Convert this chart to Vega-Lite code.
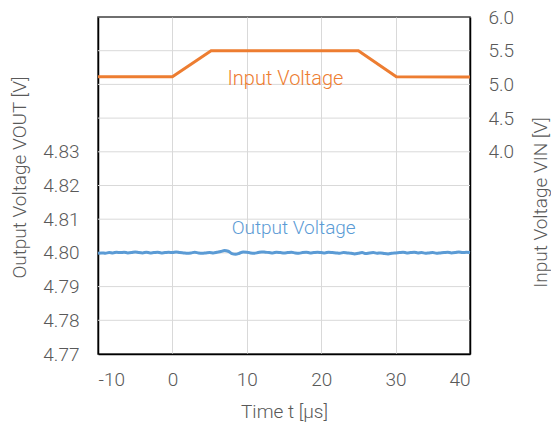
{
  "$schema": "https://vega.github.io/schema/vega-lite/v6.json",
  "autosize": {"type": "none"},
  "padding": {"left": 98, "top": 17, "right": 81, "bottom": 73},
  "width": 372,
  "height": 337,
  "background": "white",
  "config": {
    "view": {"stroke": "#404040", "strokeWidth": 1.5},
    "font": "Roboto",
    "axis": {
      "labelFont": "Roboto",
      "titleFont": "Roboto",
      "labelFontSize": 19,
      "titleFontSize": 19,
      "labelFontWeight": 300,
      "titleFontWeight": 300,
      "labelColor": "#595959",
      "titleColor": "#595959",
      "labelOverlap": false,
      "ticks": false,
      "domainColor": "#000000",
      "domainWidth": 1.5,
      "gridColor": "#d9d9d9",
      "gridWidth": 1
    }
  },
  "datasets": {
    "grid": [
      {"v": 4.78}, {"v": 4.79}, {"v": 4.80}, {"v": 4.81}, {"v": 4.82},
      {"v": 4.83}, {"v": 4.84}, {"v": 4.85}, {"v": 4.86}
    ],
    "vin": [
      {"t": -10, "v": 5.115},
      {"t": 0, "v": 5.115},
      {"t": 5.2, "v": 5.5},
      {"t": 25, "v": 5.5},
      {"t": 30.1, "v": 5.115},
      {"t": 40, "v": 5.11}
    ],
    "vout": [
      {"t": -10, "v": 4.7999}, {"t": -9.5, "v": 4.8000}, {"t": -9, "v": 4.7999}, {"t": -8.5, "v": 4.8001},
      {"t": -8, "v": 4.8000}, {"t": -7.5, "v": 4.8002}, {"t": -7, "v": 4.8001}, {"t": -6.5, "v": 4.8002},
      {"t": -6, "v": 4.8000}, {"t": -5.5, "v": 4.8001}, {"t": -5, "v": 4.8003}, {"t": -4.5, "v": 4.8001},
      {"t": -4, "v": 4.8000}, {"t": -3.5, "v": 4.8002}, {"t": -3, "v": 4.8000}, {"t": -2.5, "v": 4.8001},
      {"t": -2, "v": 4.8002}, {"t": -1.5, "v": 4.8000}, {"t": -1, "v": 4.8001}, {"t": -0.5, "v": 4.8002},
      {"t": 0, "v": 4.8001}, {"t": 0.5, "v": 4.8003}, {"t": 1, "v": 4.8001}, {"t": 1.5, "v": 4.8000},
      {"t": 2, "v": 4.7999}, {"t": 2.5, "v": 4.8000}, {"t": 3, "v": 4.8002}, {"t": 3.5, "v": 4.8000},
      {"t": 4, "v": 4.7999}, {"t": 4.5, "v": 4.8000}, {"t": 5, "v": 4.8001}, {"t": 5.5, "v": 4.8000},
      {"t": 6, "v": 4.8002}, {"t": 6.5, "v": 4.8004}, {"t": 7, "v": 4.8007}, {"t": 7.5, "v": 4.8005},
      {"t": 8, "v": 4.7998}, {"t": 8.5, "v": 4.7996}, {"t": 9, "v": 4.7999}, {"t": 9.5, "v": 4.8003},
      {"t": 10, "v": 4.8002}, {"t": 10.5, "v": 4.8000}, {"t": 11, "v": 4.7999}, {"t": 11.5, "v": 4.8001},
      {"t": 12, "v": 4.8003}, {"t": 12.5, "v": 4.8002}, {"t": 13, "v": 4.8001}, {"t": 13.5, "v": 4.8000},
      {"t": 14, "v": 4.8002}, {"t": 14.5, "v": 4.8001}, {"t": 15, "v": 4.8000}, {"t": 15.5, "v": 4.8001},
      {"t": 16, "v": 4.8002}, {"t": 16.5, "v": 4.8000}, {"t": 17, "v": 4.7999}, {"t": 17.5, "v": 4.8001},
      {"t": 18, "v": 4.8002}, {"t": 18.5, "v": 4.8000}, {"t": 19, "v": 4.8001}, {"t": 19.5, "v": 4.8002},
      {"t": 20, "v": 4.8001}, {"t": 20.5, "v": 4.8000}, {"t": 21, "v": 4.8002}, {"t": 21.5, "v": 4.8001},
      {"t": 22, "v": 4.8000}, {"t": 22.5, "v": 4.7999}, {"t": 23, "v": 4.8001}, {"t": 23.5, "v": 4.8000},
      {"t": 24, "v": 4.7999}, {"t": 24.5, "v": 4.7997}, {"t": 25, "v": 4.7999}, {"t": 25.5, "v": 4.8001},
      {"t": 26, "v": 4.7998}, {"t": 26.5, "v": 4.8000}, {"t": 27, "v": 4.8001}, {"t": 27.5, "v": 4.7999},
      {"t": 28, "v": 4.8000}, {"t": 28.5, "v": 4.7998}, {"t": 29, "v": 4.7997}, {"t": 29.5, "v": 4.7999},
      {"t": 30, "v": 4.8000}, {"t": 30.5, "v": 4.8001}, {"t": 31, "v": 4.8002}, {"t": 31.5, "v": 4.8000},
      {"t": 32, "v": 4.8001}, {"t": 32.5, "v": 4.8002}, {"t": 33, "v": 4.8000}, {"t": 33.5, "v": 4.8001},
      {"t": 34, "v": 4.7999}, {"t": 34.5, "v": 4.8000}, {"t": 35, "v": 4.8001}, {"t": 35.5, "v": 4.7999},
      {"t": 36, "v": 4.8000}, {"t": 36.5, "v": 4.8001}, {"t": 37, "v": 4.8002}, {"t": 37.5, "v": 4.8000},
      {"t": 38, "v": 4.8001}, {"t": 38.5, "v": 4.8003}, {"t": 39, "v": 4.8001}, {"t": 39.5, "v": 4.8002},
      {"t": 40, "v": 4.8001}
    ],
    "labels_in": [{"t": 15.2, "v": 5.08, "label": "Input Voltage"}],
    "labels_out": [{"t": 16.3, "v": 4.8074, "label": "Output Voltage"}]
  },
  "encoding": {
    "x": {
      "field": "t", "type": "quantitative",
      "scale": {"domain": [-10, 40], "nice": false, "zero": false},
      "axis": {
        "title": "Time t [μs]",
        "values": [-10, 0, 10, 20, 30, 40],
        "labelExpr": "datum.value < 0 ? '-' + abs(datum.value) : '' + datum.value",
        "labelPadding": 16,
        "titlePadding": 13,
        "grid": true
      }
    }
  },
  "layer": [
    {
      "layer": [
        {
          "data": {"name": "grid"},
          "mark": {"type": "rule", "color": "#d9d9d9", "strokeWidth": 1},
          "encoding": {
            "x": null,
            "y": {"field": "v", "type": "quantitative"}
          }
        },
        {
          "data": {"name": "vout"},
          "mark": {"type": "line", "color": "#5B9BD5", "strokeWidth": 3, "interpolate": "monotone"},
          "encoding": {
            "y": {
              "field": "v", "type": "quantitative",
              "scale": {"domain": [4.77, 4.87], "nice": false, "zero": false},
              "axis": {
                "orient": "left",
                "title": "Output Voltage VOUT [V]",
                "titleAngle": 270,
                "titleX": -79,
                "titleY": 160,
                "titleAlign": "center",
                "titleBaseline": "middle",
                "values": [4.77, 4.78, 4.79, 4.80, 4.81, 4.82, 4.83, 4.84, 4.85, 4.86, 4.87],
                "tickCount": 11,
                "labelExpr": "datum.value <= 4.835 ? format(datum.value, '.2f') : ''",
                "labelPadding": 19,
                "grid": false
              }
            }
          }
        },
        {
          "data": {"name": "labels_out"},
          "mark": {"type": "text", "color": "#5B9BD5", "fontSize": 19, "font": "Roboto", "fontWeight": 300},
          "encoding": {
            "y": {"field": "v", "type": "quantitative"},
            "text": {"field": "label"}
          }
        }
      ]
    },
    {
      "layer": [
        {
          "data": {"name": "vin"},
          "mark": {"type": "line", "color": "#ED7D31", "strokeWidth": 3},
          "encoding": {
            "y": {
              "field": "v", "type": "quantitative",
              "scale": {"domain": [1, 6], "nice": false, "zero": false},
              "axis": {
                "orient": "right",
                "title": "Input Voltage VIN [V]",
                "titleAngle": 270,
                "titleX": 70,
                "titleY": 185,
                "titleAlign": "center",
                "titleBaseline": "middle",
                "values": [4.0, 4.5, 5.0, 5.5, 6.0],
                "format": ".1f",
                "labelPadding": 18,
                "grid": false
              }
            }
          }
        },
        {
          "data": {"name": "labels_in"},
          "mark": {"type": "text", "color": "#ED7D31", "fontSize": 20, "font": "Roboto", "fontWeight": 300},
          "encoding": {
            "y": {"field": "v", "type": "quantitative"},
            "text": {"field": "label"}
          }
        }
      ]
    }
  ],
  "resolve": {"scale": {"y": "independent"}}
}
